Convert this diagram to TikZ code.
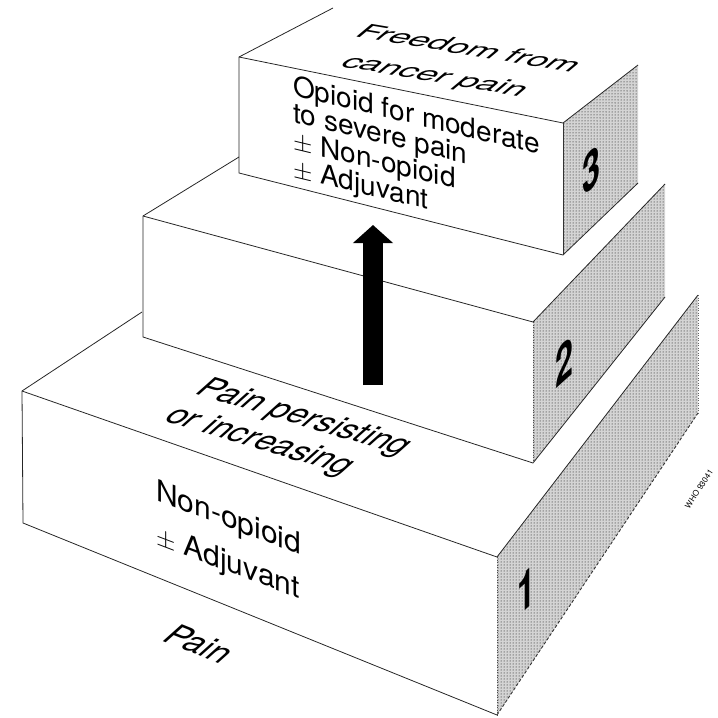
\documentclass[tikz,border=0pt]{standalone}
\usepackage{fontspec}
\setmainfont{TeX Gyre Heros}
\usetikzlibrary{arrows.meta,patterns}

\begin{document}
\begin{tikzpicture}[x=1pt,y=-1pt,
  edge/.style={line width=0.8pt, black!85},
  dashedge/.style={line width=0.9pt, black!80, dash pattern=on 3pt off 2pt},
  sidefill/.style={fill=black!17},
  stipple/.style={pattern=dots, pattern color=black},
  fronttext/.style={inner sep=0pt, anchor=base west, align=left},
  planetext/.style={inner sep=0pt, anchor=base west, font=\fontsize{28}{32}\selectfont},
  stepnum/.style={inner sep=0pt, font=\fontsize{54}{54}\selectfont\bfseries, yslant=0.9, xscale=0.6}
]
\useasboundingbox (0,0) rectangle (718,718);

% ---- corner points of the three steps (front face, side face, top edges)
\coordinate (A1) at (22,391);  \coordinate (B1) at (497,557);
\coordinate (C1) at (497,715); \coordinate (D1) at (23,523);
\coordinate (P1) at (142,312); \coordinate (F1) at (698,295);
\coordinate (G1) at (698,413);

\coordinate (A2) at (143,216); \coordinate (B2) at (533,322);
\coordinate (C2) at (533,463); \coordinate (D2) at (143,337);
\coordinate (P2) at (239,157); \coordinate (F2) at (665,184);
\coordinate (G2) at (665,297);

\coordinate (A3) at (239,57);  \coordinate (B3) at (563,123);
\coordinate (C3) at (563,255); \coordinate (D3) at (239,173);
\coordinate (H3) at (333,8);   \coordinate (F3) at (638,65);
\coordinate (G3) at (638,183);

% ---- shaded side faces
\foreach \s in {1,2,3}{
  \fill[sidefill] (B\s) -- (F\s) -- (G\s) -- (C\s) -- cycle;
  \fill[stipple]  (B\s) -- (F\s) -- (G\s) -- (C\s) -- cycle;
}

% ---- step 1
\draw[edge] (P1) -- (A1) -- (D1) -- (C1);
\draw[edge] (A1) -- (B1) -- (F1);
\draw[line width=0.5pt, black!70, dotted] (B1) -- (C1);
\draw[dashedge] (C1) -- (G1);
\draw[line width=0.5pt, black!60, dotted] (F1) -- (G1);

% ---- step 2
\draw[edge] (P2) -- (A2) -- (D2) -- (C2);
\draw[edge] (A2) -- (B2) -- (F2);
\draw[edge] (C2) -- (G2);
\draw[line width=0.5pt, black!70, dotted] (B2) -- (C2);

% ---- step 3
\draw[edge] (H3) -- (A3) -- (D3) -- (C3);
\draw[edge] (A3) -- (B3) -- (F3);
\draw[edge] (C3) -- (G3);
\draw[line width=0.6pt, black!80] (B3) -- (C3);

% ---- texts on the front faces (anchored at the baseline of the last line)
\node[fronttext, yslant=-0.24, font=\fontsize{28}{25.7}\selectfont] (step3text) at (293,177)
  {Opioid for moderate\\to severe pain\\$\pm$ Non-opioid\\$\pm$ Adjuvant};
\node[fronttext, yslant=-0.38, font=\fontsize{30}{44}\selectfont] (step1text) at (156,544)
  {Non-opioid\\$\pm$ Adjuvant};

% ---- texts lying on the horizontal planes
\node[planetext, cm={1.25,-0.21,0.745,0.62,(0,0)}] (goal1) at (353,36) {Freedom from};
\node[planetext, cm={1.25,-0.21,0.745,0.62,(0,0)}] (goal2) at (338,66) {cancer pain};
\node[planetext, cm={1.133,-0.34,0.93,0.83,(0,0)}] (persist1) at (193,393) {Pain persisting};
\node[planetext, cm={1.133,-0.34,0.93,0.83,(0,0)}] (persist2) at (162,420) {or increasing};
\node[planetext, cm={1.095,-0.438,0.93,0.83,(0,0)}] (pain) at (160,640) {Pain};

% ---- step numbers on the side faces
\node[stepnum] (num3) at (592,170) {3};
\node[stepnum] (num2) at (565,362) {2};
\node[stepnum] (num1) at (527,590) {1};

% ---- code mark
\node[inner sep=0pt, rotate=57, font=\fontsize{8}{8}\selectfont] (code) at (699,489) {WHO 93041};

% ---- upward arrow
\coordinate (arrowfoot) at (373,385);
\coordinate (arrowtip) at (373,225);
\draw[line width=20pt, -{Triangle[width=39pt,length=18pt]}] (arrowfoot) -- (arrowtip);
\end{tikzpicture}
\end{document}
